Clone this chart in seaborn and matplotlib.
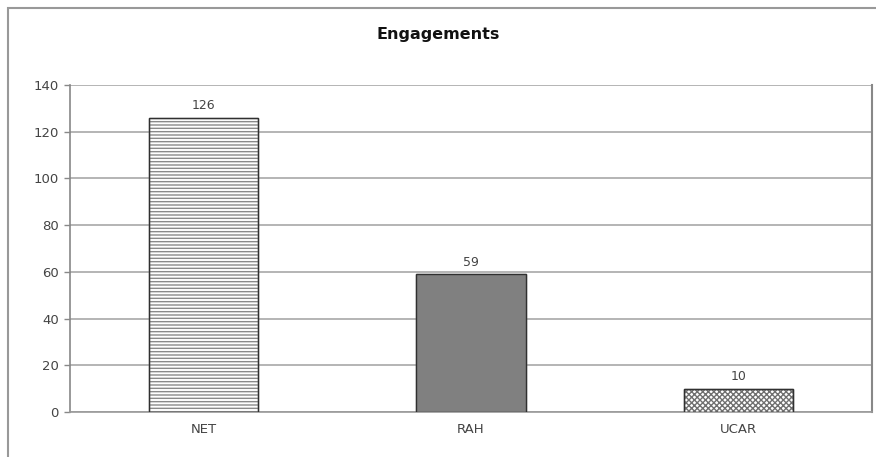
import matplotlib
matplotlib.use("Agg")
import matplotlib.pyplot as plt
import matplotlib.patches as mpatches
import pandas as pd
import seaborn as sns

# data
categories = ["NET", "RAH", "UCAR"]
values = [126, 59, 10]
y_ticks = [0, 20, 40, 60, 80, 100, 120, 140]

df = pd.DataFrame({"Unit": categories, "Engagements": values})

sns.set_style("white")
plt.rcParams["font.family"] = ["DejaVu Sans"]
plt.rcParams["hatch.linewidth"] = 1.0

fig = plt.figure(figsize=(8.76, 4.57), dpi=100)
ax = fig.add_axes([70 / 876, 45 / 457, 802 / 876, 327 / 457])

sns.barplot(data=df, x="Unit", y="Engagements", ax=ax, width=0.41,
            color="white", saturation=1, zorder=3)

# fills per bar
styles = [
    dict(facecolor="white", hatch="-----", hatch_edge="#8a8a8a"),
    dict(facecolor="#808080", hatch=None, hatch_edge="#808080"),
    dict(facecolor="white", hatch="xxxxxx", hatch_edge="#707070"),
]
for p, st in zip(ax.patches, styles):
    p.set_facecolor(st["facecolor"])
    p.set_edgecolor(st["hatch_edge"])
    if st["hatch"]:
        p.set_hatch(st["hatch"])
    # dark outline on top
    ax.add_patch(mpatches.Rectangle((p.get_x(), p.get_y()), p.get_width(), p.get_height(),
                                    fill=False, edgecolor="#303030", linewidth=1.0, zorder=4))

ax.bar_label(ax.containers[0], labels=[str(v) for v in values], padding=4,
             fontsize=9, color="#444444")

ax.set_ylim(0, 140)
ax.set_yticks(y_ticks)
ax.yaxis.grid(True, color="#a8a8a8", linewidth=1.2, zorder=0)
ax.set_axisbelow(True)
ax.set_xlabel("")
ax.set_ylabel("")
ax.tick_params(axis="both", labelsize=9.5, colors="#444444")
ax.tick_params(axis="y", length=4, width=1, color="#888888", left=True, direction="out", pad=4)
ax.tick_params(axis="x", length=0, pad=8)

ax.spines["top"].set_visible(False)
ax.spines["left"].set_color("#888888")
ax.spines["left"].set_linewidth(1.2)
ax.spines["right"].set_color("#888888")
ax.spines["right"].set_linewidth(1.5)
ax.spines["bottom"].set_color("#999999")
ax.spines["bottom"].set_linewidth(1.2)

fig.text(0.5, 1 - 34 / 457, "Engagements", ha="center", va="center",
         fontsize=11.5, fontweight="bold", color="#111111")

# outer chart frame
fig.patches.append(mpatches.Rectangle((8 / 876, -0.02), 1.0, 1 - 8 / 457 + 0.02,
                                      transform=fig.transFigure, fill=False,
                                      edgecolor="#999999", linewidth=1.5))

fig.savefig("out.png", dpi=100)
